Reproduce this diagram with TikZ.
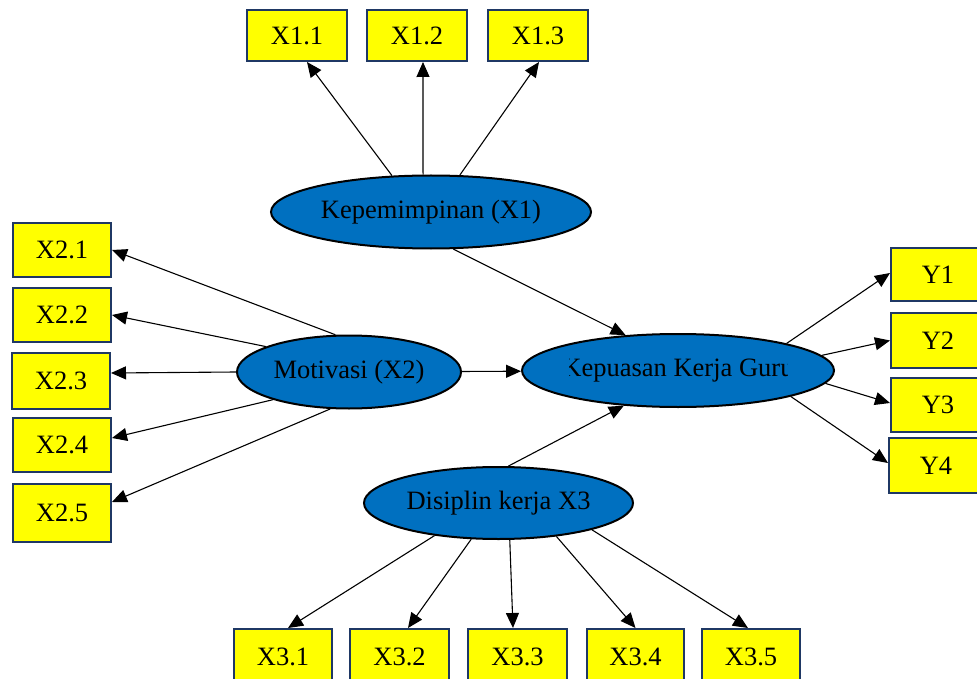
\documentclass[tikz,border=0pt]{standalone}
\usepackage{fontspec}
\setmainfont{Liberation Serif}
\usetikzlibrary{shapes.geometric,arrows.meta}
\definecolor{boxyellow}{HTML}{FFFF00}
\definecolor{boxedge}{HTML}{1F3864}
\definecolor{ellblue}{HTML}{0070C0}
\tikzset{
  ind/.style={draw=boxedge, line width=2pt, fill=boxyellow, rectangle, inner sep=0pt,
    font=\fontsize{26.5}{30}\selectfont},
  lat/.style={draw=black, line width=2pt, fill=ellblue, ellipse, inner sep=0pt,
    font=\fontsize{26.5}{30}\selectfont},
  arr/.style={draw=black, line width=1.1pt, -{Triangle[length=15pt,width=13pt]}},
}
\begin{document}
\begin{tikzpicture}[x=1pt,y=-1pt]
\useasboundingbox (0,0) rectangle (977,679);
% indicator boxes, top
\node[ind, minimum width=100pt, minimum height=51pt] (b11) at (297,35.5) {X1.1};
\node[ind, minimum width=100pt, minimum height=51pt] (b12) at (417,35.5) {X1.2};
\node[ind, minimum width=100pt, minimum height=51pt] (b13) at (538,35.5) {X1.3};
% left
\node[ind, minimum width=98pt, minimum height=54pt] (b21) at (62,250) {X2.1};
\node[ind, minimum width=98pt, minimum height=54pt] (b22) at (62,315) {X2.2};
\node[ind, minimum width=98pt, minimum height=56pt] (b23) at (61,381) {X2.3};
\node[ind, minimum width=98pt, minimum height=54pt] (b24) at (62,445) {X2.4};
\node[ind, minimum width=98pt, minimum height=58pt] (b25) at (62,513) {X2.5};
% right
\node[ind, minimum width=94pt, minimum height=53pt] (y1) at (938,274.5) {Y1};
\node[ind, minimum width=94pt, minimum height=55pt] (y2) at (938,340.5) {Y2};
\node[ind, minimum width=94pt, minimum height=54pt] (y3) at (938,405) {Y3};
\node[ind, minimum width=94pt, minimum height=55pt] (y4) at (936,465.5) {Y4};
% bottom
\node[ind, minimum width=98pt, minimum height=56pt] (b31) at (283,657) {X3.1};
\node[ind, minimum width=99pt, minimum height=56pt] (b32) at (399.5,657) {X3.2};
\node[ind, minimum width=99pt, minimum height=56pt] (b33) at (517.5,657) {X3.3};
\node[ind, minimum width=97pt, minimum height=56pt] (b34) at (635.5,657) {X3.4};
\node[ind, minimum width=98pt, minimum height=56pt] (b35) at (751,657) {X3.5};
% latent variables
\node[lat, minimum width=320pt, minimum height=73pt] (k1) at (431,212) {Kepemimpinan (X1)};
\node[lat, minimum width=224pt, minimum height=73pt] (m2) at (349,372) {Motivasi (X2)};
\node[lat, minimum width=312pt, minimum height=73pt] (kp) at (678,370.5) {};
\begin{scope}
  \clip (569,340) rectangle (787,402);
  \node[font=\fontsize{26.5}{30}\selectfont, inner sep=0pt] (kptext) at (kp.center) {Kepuasan Kerja Guru};
\end{scope}
\node[lat, minimum width=269pt, minimum height=72pt] (d3) at (498.5,503) {Disiplin kerja X3};
% connectors
\draw[arr] (k1.137.4) -- ([xshift=10pt]b11.south);
\draw[arr] (k1.102.7) -- ([xshift=6pt]b12.south);
\draw[arr] (k1.52.4) -- ([xshift=1pt]b13.south);
\draw[arr] (k1.-59.7) -- (kp.146.2);
\draw[arr] (m2) -- (kp);
\draw[arr] (d3.75.6) -- (kp.213.8);
\draw[arr] (m2.110.7) -- (b21.east);
\draw[arr] (m2.163.4) -- (b22.east);
\draw[arr] (m2.west) -- ([yshift=8pt]b23.east);
\draw[arr] (m2.200) -- ([yshift=7pt]b24.east);
\draw[arr] (m2.243.4) -- ([yshift=11pt]b25.east);
\draw[arr] (kp.14.5) -- ([yshift=1.5pt]y1.west);
\draw[arr] (kp.6.5) -- (y2.west);
\draw[arr] (kp.-5.7) -- ([yshift=2pt]y3.west);
\draw[arr] (kp.-13.3) -- ([yshift=2.5pt]y4.west);
\draw[arr] (d3.207.4) -- ([xshift=5pt]b31.north);
\draw[arr] (d3.233.4) -- ([xshift=8.5pt]b32.north);
\draw[arr] (d3.287.4) -- ([xshift=-4.5pt]b33.north);
\draw[arr] (d3.330.7) -- (b34.north);
\draw[arr] (d3.344.7) -- ([xshift=-3pt]b35.north);
\end{tikzpicture}
\end{document}
